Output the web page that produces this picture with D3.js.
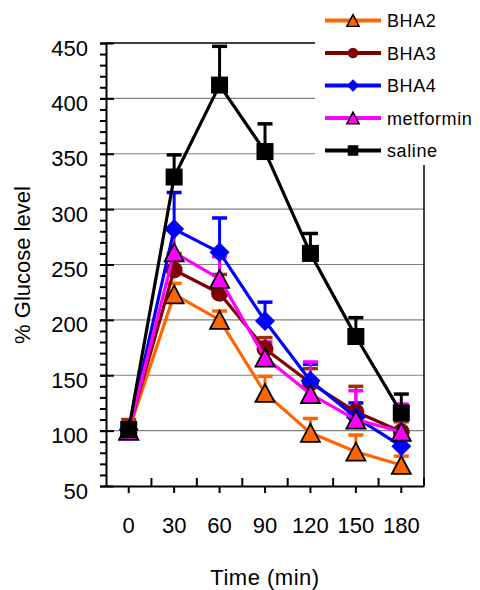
<!DOCTYPE html>
<html><head><meta charset="utf-8">
<script src="https://cdn.jsdelivr.net/npm/d3@7/dist/d3.min.js"></script>
<style>
html,body{margin:0;padding:0;background:#fff;}
svg{display:block;font-family:"Liberation Sans",Arial,sans-serif;}
</style></head>
<body>
<svg id="chart" width="480" height="590"></svg>
<script>
const categories = ["0","30","60","90","120","150","180"];
const yTicks = [50,100,150,200,250,300,350,400,450];
const seriesNames = ["BHA2","BHA3","BHA4","metformin","saline"];
const bha2 = [100, 223, 200, 134, 98, 81, 69];
const bha2Err = [4, 10, 8, 15, 13, 15, 8];
const bha3 = [101, 245, 224, 174, 143, 117, 99];
const bha3Err = [9, 15, 17, 10, 13, 23, 9];
const bha4 = [101, 282, 261, 199, 145, 112, 86];
const bha4Err = [4, 33, 31, 17, 15, 13, 8];
const metformin = [100, 261, 237, 166, 133, 110, 99];
const metforminErr = [3, 20, 20, 14, 29, 26, 25];
const saline = [101, 329, 412, 352, 260, 185, 116];
const salineErr = [3, 20, 35, 25, 18, 17, 17];

const series = [
  {name:"BHA2", values:bha2, err:bha2Err, color:"#FF6600", errColor:"#FF6600", marker:"triangle"},
  {name:"BHA3", values:bha3, err:bha3Err, color:"#800000", errColor:"#993300", marker:"circle"},
  {name:"BHA4", values:bha4, err:bha4Err, color:"#0000FF", errColor:"#0000FF", marker:"diamond"},
  {name:"metformin", values:metformin, err:metforminErr, color:"#FF00FF", errColor:"#FF00FF", marker:"triangle"},
  {name:"saline", values:saline, err:salineErr, color:"#000000", errColor:"#000000", marker:"square"}
];

const svg = d3.select("#chart");
const L = 106, R = 424, T = 43, B = 486;
const x = d3.scaleBand().domain(categories).range([L, R]).padding(0);
const y = d3.scaleLinear().domain([50, 450]).range([B, T]);
const cx = c => x(c) + x.bandwidth()/2;
const FONT = "Liberation Sans, Arial, sans-serif";

// gridlines
svg.append("g").selectAll("line").data(yTicks.filter(v => v > 50 && v < 450)).join("line")
  .attr("x1", L).attr("x2", R).attr("y1", d => y(d)).attr("y2", d => y(d))
  .attr("stroke", "#808080").attr("stroke-width", 1.2);

// plot border top & right
svg.append("line").attr("x1", L).attr("x2", R).attr("y1", y(450)).attr("y2", y(450)).attr("stroke", "#000").attr("stroke-width", 1.5);
svg.append("line").attr("x1", R).attr("x2", R).attr("y1", y(450)).attr("y2", B).attr("stroke", "#000").attr("stroke-width", 1.5);

// Y axis minor ticks
const minor = d3.range(50, 451, 10);
svg.append("g").attr("transform", `translate(${L},0)`)
  .call(d3.axisLeft(y).tickValues(minor).tickSize(6).tickFormat(""))
  .call(g => g.select(".domain").remove())
  .selectAll("line").attr("stroke", "#000").attr("stroke-width", 2);
// Y axis major ticks (inside part)
svg.append("g").attr("transform", `translate(${L},0)`)
  .call(d3.axisRight(y).tickValues(yTicks).tickSize(8).tickFormat(""))
  .call(g => g.select(".domain").remove())
  .selectAll("line").attr("stroke", "#000").attr("stroke-width", 2);
// Y axis main
const yAx = svg.append("g").attr("transform", `translate(${L},0)`)
  .call(d3.axisLeft(y).tickValues(yTicks).tickSize(6).tickPadding(12).tickSizeOuter(0));
yAx.select(".domain").attr("stroke", "#000").attr("stroke-width", 2);
yAx.selectAll("line").attr("stroke", "#000").attr("stroke-width", 2);
yAx.selectAll("text").attr("font-size", 22).attr("font-family", FONT).attr("fill", "#000").attr("dy", "0.55em");

// X axis
const xAx = svg.append("g").attr("transform", `translate(0,${B})`)
  .call(d3.axisBottom(x).tickSize(7).tickPadding(24.5).tickSizeOuter(0));
xAx.select(".domain").attr("stroke", "#000").attr("stroke-width", 2);
xAx.selectAll("line").attr("stroke", "#000").attr("stroke-width", 2);
xAx.selectAll("text").attr("font-size", 22).attr("font-family", FONT).attr("fill", "#000");
// boundary ticks going up
const bounds = categories.slice(1).map(c => x(c)).concat([R]);
svg.append("g").selectAll("line").data(bounds).join("line")
  .attr("x1", d => d).attr("x2", d => d).attr("y1", B).attr("y2", B - 8)
  .attr("stroke", "#000").attr("stroke-width", 2);

// error bars
const capW = 15;
series.forEach(s => {
  const g = svg.append("g");
  s.values.forEach((v, i) => {
    const c = categories[i];
    g.append("line").attr("x1", cx(c)).attr("x2", cx(c)).attr("y1", y(v)).attr("y2", y(v + s.err[i]))
      .attr("stroke", s.errColor).attr("stroke-width", 3);
    g.append("line").attr("x1", cx(c) - capW/2).attr("x2", cx(c) + capW/2).attr("y1", y(v + s.err[i])).attr("y2", y(v + s.err[i]))
      .attr("stroke", s.errColor).attr("stroke-width", 3.5);
  });
});

const line = d3.line().x((d, i) => cx(categories[i])).y(d => y(d));

function drawMarker(g, type, color, px, py, scale) {
  const k = scale || 1;
  if (type === "triangle") {
    const w = 19*k, h = 18*k;
    g.append("path").attr("d", `M${px},${py - h/2}L${px + w/2},${py + h/2}L${px - w/2},${py + h/2}Z`)
      .attr("fill", color).attr("stroke", "#000").attr("stroke-width", 1.8*Math.max(k,0.8)).attr("stroke-linejoin", "miter");
  } else if (type === "circle") {
    g.append("circle").attr("cx", px).attr("cy", py).attr("r", 8.5*k).attr("fill", color);
  } else if (type === "diamond") {
    const w = 10*k;
    g.append("path").attr("d", `M${px},${py - w}L${px + w},${py}L${px},${py + w}L${px - w},${py}Z`).attr("fill", color);
  } else if (type === "square") {
    const w = 17*k;
    g.append("rect").attr("x", px - w/2).attr("y", py - w/2).attr("width", w).attr("height", w).attr("fill", color);
  }
}

// lines and markers per series
series.forEach(s => {
  const g = svg.append("g");
  g.append("path").datum(s.values).attr("d", line).attr("fill", "none")
    .attr("stroke", s.color).attr("stroke-width", 3.2).attr("stroke-linejoin", "round");
  s.values.forEach((v, i) => drawMarker(g, s.marker, s.color, cx(categories[i]), y(v), 1));
});

// legend
const lg = svg.append("g");
lg.append("rect").attr("x", 315).attr("y", 0).attr("width", 165).attr("height", 165).attr("fill", "#fff");
const legY = d3.scalePoint().domain(seriesNames).range([20.5, 150.5]);
series.forEach(s => {
  const yy = legY(s.name);
  lg.append("line").attr("x1", 325).attr("x2", 381).attr("y1", yy).attr("y2", yy)
    .attr("stroke", s.color).attr("stroke-width", 4);
  drawMarker(lg, s.marker, s.color, 353, yy, s.marker === "triangle" ? 0.65 : 0.62);
  lg.append("text").attr("x", 387).attr("y", yy + 6.5).attr("font-size", 18)
    .attr("letter-spacing", 0.6).attr("fill", "#000").text(s.name);
});

// axis titles
svg.append("text").attr("x", (L + R)/2).attr("y", 585).attr("text-anchor", "middle")
  .attr("font-size", 22).attr("letter-spacing", 0.5).attr("fill", "#000").text("Time (min)");
svg.append("text").attr("transform", `translate(30,265) rotate(-90)`).attr("text-anchor", "middle")
  .attr("font-size", 22).attr("fill", "#000").text("% Glucose level");
</script>
</body></html>
